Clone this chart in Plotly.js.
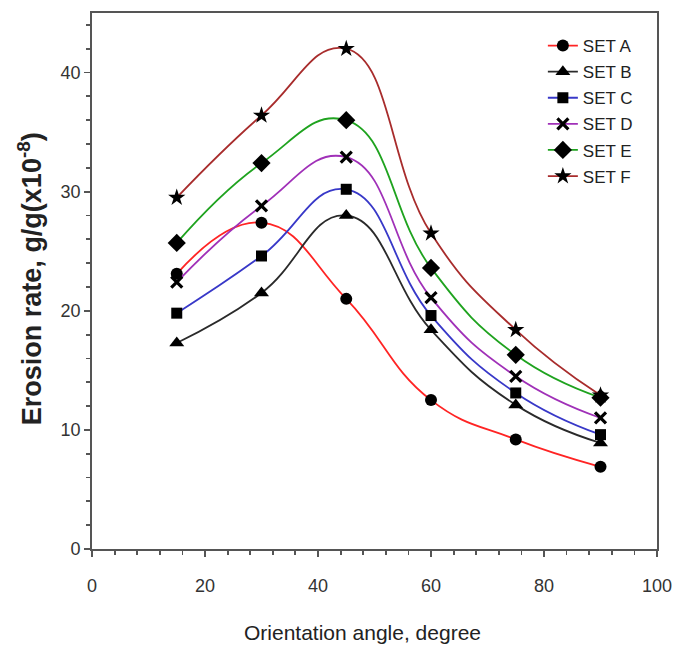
<!DOCTYPE html>
<html>
<head>
<meta charset="utf-8">
<script src="https://cdn.plot.ly/plotly-3.0.1.min.js"></script>
<style>html,body{margin:0;padding:0;background:#fff;}#chart{width:673px;height:653px;}</style>
</head>
<body>
<div id="chart"></div>
<script>
// Orientation angle (degree)
const angles = [15, 30, 45, 60, 75, 90];
// Erosion rate, g/g (x10^-8)
const setA = [23.1, 27.4, 21.0, 12.5, 9.2, 6.9];
const setB = [17.3, 21.5, 28.0, 18.4, 12.1, 8.9];
const setC = [19.8, 24.6, 30.2, 19.6, 13.1, 9.6];
const setD = [22.4, 28.8, 32.9, 21.1, 14.5, 11.0];
const setE = [25.7, 32.4, 36.0, 23.6, 16.3, 12.7];
const setF = [29.5, 36.4, 42.0, 26.5, 18.4, 12.9];
const names = ['SET A', 'SET B', 'SET C', 'SET D', 'SET E', 'SET F'];
const xTicks = [0, 20, 40, 60, 80, 100];
const yTicks = [0, 10, 20, 30, 40];

const series = [setA, setB, setC, setD, setE, setF];
const lineColors = ['#ff2424', '#2a2a2a', '#3838c8', '#a030b8', '#1fa31f', '#a82c2c'];
const symbols = ['circle', 'triangle-up', 'square', 'x-thin-open', 'diamond', 'star'];
const sizes = [12, 13, 11, 11, 14, 13];

const traces = series.map((ys, i) => ({
  x: angles,
  y: ys,
  name: names[i],
  legendgroup: 'g' + i,
  type: 'scatter',
  mode: 'lines+markers',
  line: {color: lineColors[i], width: 1.8, shape: 'spline', smoothing: 1.3},
  marker: symbols[i] === 'x-thin-open'
    ? {symbol: symbols[i], size: sizes[i], color: '#000', line: {color: '#000', width: 3.2}}
    : {symbol: symbols[i], size: sizes[i], color: '#000', line: {width: 0}}
}));

const tickFont = {family: 'Liberation Sans, Arial, sans-serif', size: 18, color: '#333'};
const axisCommon = {
  showline: true,
  linecolor: '#555',
  linewidth: 1.8,
  mirror: true,
  showgrid: false,
  zeroline: false,
  ticks: 'outside',
  ticklen: 6,
  tickwidth: 1.8,
  tickcolor: '#555',
  tickfont: tickFont
};

const layout = {
  width: 673,
  height: 653,
  paper_bgcolor: '#fff',
  plot_bgcolor: '#fff',
  margin: {l: 92, r: 16, t: 13, b: 104},
  showlegend: true,
  legend: {
    x: 0.798, y: 0.972, xanchor: 'left', yanchor: 'top',
    bgcolor: 'rgba(0,0,0,0)',
    font: {family: 'Liberation Sans, Arial, sans-serif', size: 17, color: '#222'},
    traceorder: 'grouped',
    tracegroupgap: 1
  },
  xaxis: Object.assign({}, axisCommon, {
    range: [0, 100],
    tickvals: xTicks,
    ticktext: xTicks.map(String),
    ticklabelstandoff: 14,
    minor: {dtick: 4, tick0: 0, ticks: 'outside', ticklen: 4, tickwidth: 1.8, tickcolor: '#555', showgrid: false}
  }),
  yaxis: Object.assign({}, axisCommon, {
    range: [0, 45],
    tickvals: yTicks,
    ticktext: yTicks.map(String),
    minor: {dtick: 2, tick0: 0, ticks: 'outside', ticklen: 4, tickwidth: 1.8, tickcolor: '#555', showgrid: false}
  }),
  annotations: [
    {text: 'Orientation angle, degree', xref: 'paper', yref: 'paper',
     x: 0.478, y: -0.155, xanchor: 'center', yanchor: 'middle', showarrow: false,
     font: {family: 'Liberation Sans, Arial, sans-serif', size: 21, color: '#222'}},
    {text: '<b>Erosion rate, g/g(x10<sup>-8</sup>)</b>', xref: 'paper', yref: 'paper',
     x: -0.11, y: 0.505, xanchor: 'center', yanchor: 'middle', textangle: -90, showarrow: false,
     font: {family: 'Liberation Sans, Arial, sans-serif', size: 27, color: '#222'}}
  ]
};

Plotly.newPlot('chart', traces, layout, {displayModeBar: false, staticPlot: true});
</script>
</body>
</html>
